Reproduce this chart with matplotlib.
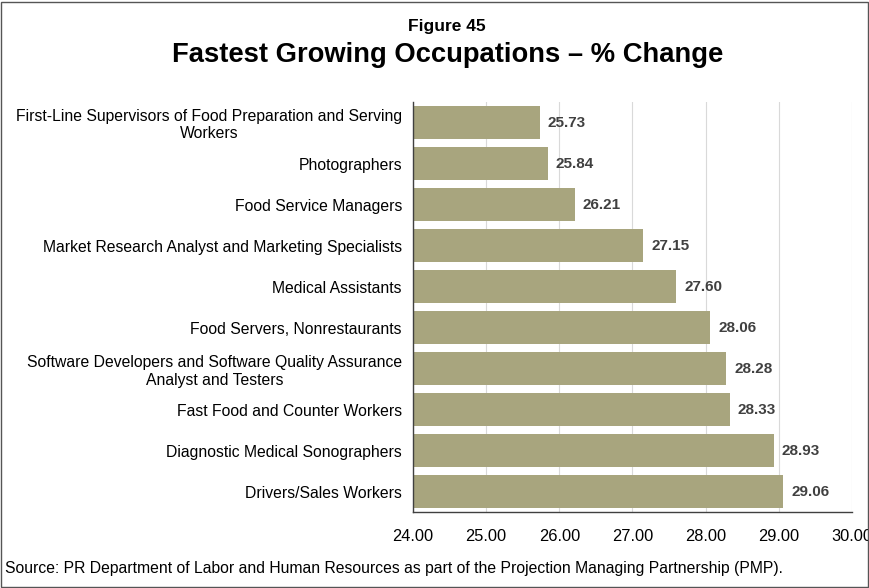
import matplotlib.pyplot as plt
import numpy as np
from matplotlib.patches import Rectangle

plt.rcParams["font.family"] = ["Liberation Sans", "DejaVu Sans"]

occupations = [
    "First-Line Supervisors of Food Preparation and Serving\nWorkers",
    "Photographers",
    "Food Service Managers",
    "Market Research Analyst and Marketing Specialists",
    "Medical Assistants",
    "Food Servers, Nonrestaurants",
    "Software Developers and Software Quality Assurance\nAnalyst and Testers",
    "Fast Food and Counter Workers",
    "Diagnostic Medical Sonographers",
    "Drivers/Sales Workers",
]
pct_change = [25.73, 25.84, 26.21, 27.15, 27.60, 28.06, 28.28, 28.33, 28.93, 29.06]
x_ticks = [24, 25, 26, 27, 28, 29, 30]

fig = plt.figure(figsize=(8.7, 5.88), dpi=100)
ax = fig.add_axes([0.4747, 0.129, 0.5046, 0.6975])

y = np.arange(len(occupations))
ax.barh(y, np.array(pct_change) - 24, left=24, height=0.82, color="#a8a57e", zorder=2)
for yi, v in zip(y, pct_change):
    ax.text(v + 0.11, yi, f"{v:.2f}", va="center", ha="left",
            fontsize=11, fontweight="bold", color="#404040")

ax.set_xlim(24, 30)
ax.set_ylim(len(occupations) - 0.5, -0.5)
ax.set_xticks(x_ticks)
ax.set_xticklabels([f"{t:.2f}" for t in x_ticks], fontsize=11.8)
ax.set_yticks(y)
ax.set_yticklabels(occupations, fontsize=11.3, multialignment="center")
ax.tick_params(axis="both", length=0)
ax.tick_params(axis="y", pad=8)
ax.tick_params(axis="x", pad=12)
ax.grid(axis="x", color="#d9d9d9", linewidth=0.8, zorder=0)
for side in ("top", "right"):
    ax.spines[side].set_visible(False)
for side in ("left", "bottom"):
    ax.spines[side].set_color("#404040")
    ax.spines[side].set_linewidth(1.0)

# titles sit centred a little right of the figure middle
fig.text(0.515, 0.8946, "Fastest Growing Occupations \u2013 % Change", ha="center",
         va="baseline", fontsize=19.7, fontweight="bold")
fig.text(0.514, 0.947, "Figure 45", ha="center", va="baseline", fontsize=12.5,
         fontweight="bold")
fig.text(0.006, 0.025, "Source: PR Department of Labor and Human Resources as part of the "
         "Projection Managing Partnership (PMP).", fontsize=11.3)

fig.patches.append(Rectangle((0.001, 0.002), 0.997, 0.995, transform=fig.transFigure,
                             fill=False, edgecolor="#555555", linewidth=1.0))

fig.savefig("out.png", dpi=100)
